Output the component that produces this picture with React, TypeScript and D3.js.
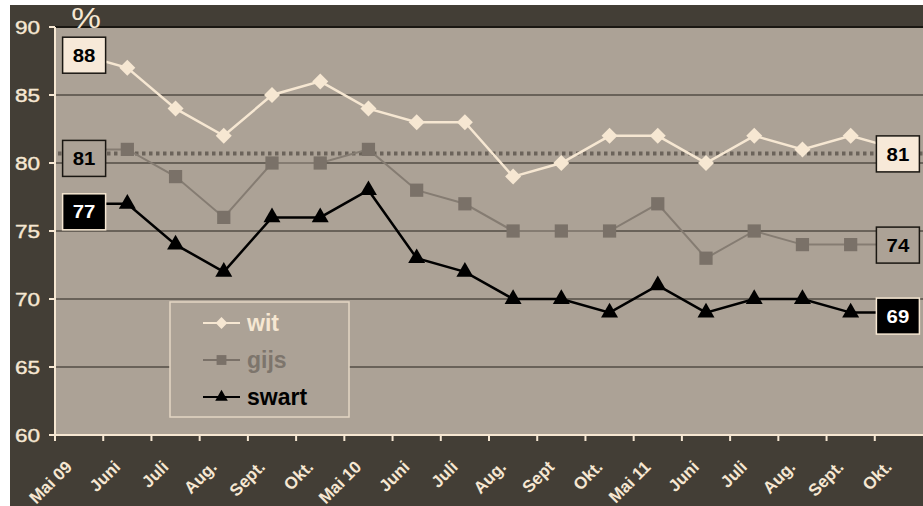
import React, { useEffect, useRef } from 'react';
import * as d3 from 'd3';

const months = [
  'Mai 09', 'Juni', 'Juli', 'Aug.', 'Sept.', 'Okt.',
  'Mai 10', 'Juni', 'Juli', 'Aug.', 'Sept', 'Okt.',
  'Mai 11', 'Juni', 'Juli', 'Aug.', 'Sept.', 'Okt.',
];
const wit = [88, 87, 84, 82, 85, 86, 84, 83, 83, 79, 80, 82, 82, 80, 82, 81, 82, 81];
const gijs = [81, 81, 79, 76, 80, 80, 81, 78, 77, 75, 75, 75, 77, 73, 75, 74, 74, 74];
const swart = [77, 77, 74, 72, 76, 76, 78, 73, 72, 70, 70, 69, 71, 69, 70, 70, 69, 69];
const average = 80.7;
const yTicks = [60, 65, 70, 75, 80, 85, 90];

const W = 923;
const H = 506;
const DARK = '#433e36';
const PLOT = '#aca296';
const CREAM = '#f6e7d2';
const GREY = '#7a7168';
const FONT = 'Liberation Sans, Arial, sans-serif';

const LineChart: React.FC = () => {
  const svgRef = useRef<SVGSVGElement>(null);

  useEffect(() => {
    if (!svgRef.current) return;
    const svg = d3.select(svgRef.current);
    svg.selectAll('*').remove();

    const left = 55;
    const right = 923;
    const top = 27;
    const bottom = 435;

    // outer frame
    svg.append('rect').attr('x', 10).attr('y', 5).attr('width', W - 10).attr('height', H - 5).attr('fill', DARK);

    const x = d3.scaleBand<number>().domain(d3.range(months.length)).range([left, right]);
    const y = d3.scaleLinear().domain([60, 90]).range([bottom, top]);
    const cx = (i: number) => (x(i) as number) + x.bandwidth() / 2;

    svg.append('rect').attr('x', left).attr('y', top).attr('width', right - left).attr('height', bottom - top).attr('fill', PLOT);

    // gridlines
    svg
      .append('g')
      .selectAll('line')
      .data(yTicks.filter((t) => t > 60))
      .enter()
      .append('line')
      .attr('x1', left)
      .attr('x2', right)
      .attr('y1', (d) => y(d))
      .attr('y2', (d) => y(d))
      .attr('stroke', (d) => (d === 90 ? '#1a1712' : '#26221c'))
      .attr('stroke-width', (d) => (d === 90 ? 2 : 1.2));

    // y axis
    const yAxis = svg.append('g').attr('transform', `translate(${left},0)`);
    yAxis.append('line').attr('x1', 0).attr('x2', 0).attr('y1', top).attr('y2', bottom).attr('stroke', CREAM).attr('stroke-width', 2);
    yAxis
      .selectAll('line.tick')
      .data(yTicks)
      .enter()
      .append('line')
      .attr('class', 'tick')
      .attr('x1', -6)
      .attr('x2', 0)
      .attr('y1', (d) => y(d))
      .attr('y2', (d) => y(d))
      .attr('stroke', CREAM)
      .attr('stroke-width', 2);
    yAxis
      .selectAll('text')
      .data(yTicks)
      .enter()
      .append('text')
      .attr('transform', (d) => `translate(-15,${y(d)}) scale(1.22,1)`)
      .attr('dy', '0.36em')
      .attr('text-anchor', 'end')
      .attr('fill', CREAM)
      .attr('font-family', FONT)
      .attr('font-size', 18.5)
      .attr('stroke', CREAM)
      .attr('stroke-width', 0.4)
      .text((d) => d);
    svg
      .append('text')
      .attr('transform', 'translate(86,28) scale(1.15,1)')
      .attr('text-anchor', 'middle')
      .attr('fill', CREAM)
      .attr('font-family', FONT)
      .attr('font-size', 29)
      .text('%');

    // x axis
    const xAxis = svg.append('g').attr('transform', `translate(0,${bottom})`);
    xAxis.append('line').attr('x1', left).attr('x2', right).attr('y1', 0).attr('y2', 0).attr('stroke', CREAM).attr('stroke-width', 2);
    xAxis
      .selectAll('line.tick')
      .data(d3.range(months.length))
      .enter()
      .append('line')
      .attr('class', 'tick')
      .attr('x1', (d) => x(d) as number)
      .attr('x2', (d) => x(d) as number)
      .attr('y1', 0)
      .attr('y2', 6)
      .attr('stroke', CREAM)
      .attr('stroke-width', 2);
    xAxis
      .selectAll('text')
      .data(months)
      .enter()
      .append('text')
      .attr('transform', (_d, i) => `translate(${cx(i) - 6},${33}) rotate(-45)`)
      .attr('text-anchor', 'end')
      .attr('fill', CREAM)
      .attr('font-family', FONT)
      .attr('font-weight', 'bold')
      .attr('font-size', 17)
      .text((d) => d);

    // average dotted line
    svg
      .append('line')
      .attr('x1', left + 3)
      .attr('x2', right)
      .attr('y1', y(average))
      .attr('y2', y(average))
      .attr('stroke', '#6b635a')
      .attr('stroke-width', 4)
      .attr('stroke-dasharray', '3.5,3.5');

    const line = d3
      .line<number>()
      .x((_d, i) => cx(i))
      .y((d) => y(d));

    const series = [
      { name: 'wit', values: wit, stroke: CREAM, fill: CREAM, shape: d3.symbolSquare, size: 128, rot: 45, lw: 2.5 },
      { name: 'gijs', values: gijs, stroke: '#857c72', fill: GREY, shape: d3.symbolSquare, size: 175, rot: 0, lw: 2 },
      { name: 'swart', values: swart, stroke: '#000', fill: '#000', shape: d3.symbolTriangle, size: 125, rot: 0, lw: 2.5 },
    ];

    series.forEach((s) => {
      svg.append('path').datum(s.values).attr('d', line).attr('fill', 'none').attr('stroke', s.stroke).attr('stroke-width', s.lw);
      svg
        .append('g')
        .selectAll('path')
        .data(s.values.slice(1, -1))
        .enter()
        .append('path')
        .attr('transform', (d, i) => `translate(${cx(i + 1)},${y(d)}) rotate(${s.rot})`)
        .attr('d', d3.symbol().type(s.shape).size(s.size)() as string)
        .attr('fill', s.fill);
    });

    // value label boxes
    const boxStyle = [
      { values: wit, fill: '#f7e9d8', stroke: '#1a1712', text: '#000', dyFirst: 1, dyLast: 4.5 },
      { values: gijs, fill: PLOT, stroke: '#1a1712', text: '#000', dyFirst: 9, dyLast: 0.5 },
      { values: swart, fill: '#000', stroke: CREAM, text: '#fff', dyFirst: 8, dyLast: 3.5 },
    ];
    const last = months.length - 1;
    boxStyle.forEach((b) => {
      const pts = [
        { i: 0, v: b.values[0], dx: 5, dy: b.dyFirst },
        { i: last, v: b.values[last], dx: -1, dy: b.dyLast },
      ];
      pts.forEach((p) => {
        const bx = cx(p.i) + p.dx;
        const by = y(p.v) + p.dy;
        svg.append('rect').attr('x', bx - 21.5).attr('y', by - 18).attr('width', 43).attr('height', 36).attr('fill', b.fill).attr('stroke', b.stroke).attr('stroke-width', 1.5);
        svg
          .append('text')
          .attr('transform', `translate(${bx},${by}) scale(1.1,1)`)
          .attr('dy', '0.36em')
          .attr('text-anchor', 'middle')
          .attr('fill', b.text)
          .attr('font-family', FONT)
          .attr('font-weight', 'bold')
          .attr('font-size', 18.5)
          .text(p.v);
      });
    });

    // legend
    const lg = svg.append('g').attr('transform', 'translate(170,302)');
    lg.append('rect').attr('width', 179).attr('height', 115).attr('fill', PLOT).attr('stroke', '#e3d6c3').attr('stroke-width', 1.5);
    const legendText = [CREAM, '#7d756c', '#000'];
    series.forEach((s, k) => {
      const ly = 21 + k * 37;
      lg.append('line').attr('x1', 33).attr('x2', 70).attr('y1', ly).attr('y2', ly).attr('stroke', s.fill).attr('stroke-width', 2);
      lg.append('path')
        .attr('transform', `translate(51.5,${ly}) rotate(${s.rot})`)
        .attr('d', d3.symbol().type(s.shape).size(s.size * 0.55)() as string)
        .attr('fill', s.fill);
      lg.append('text')
        .attr('x', 77)
        .attr('y', ly)
        .attr('dy', '0.36em')
        .attr('fill', legendText[k])
        .attr('font-family', FONT)
        .attr('font-weight', 'bold')
        .attr('font-size', 23)
        .text(s.name);
    });
  }, []);

  return <svg ref={svgRef} width={W} height={H} style={{ position: 'absolute', left: 0, top: 0, background: '#fff' }} />;
};

export default function App() {
  return <LineChart />;
}
